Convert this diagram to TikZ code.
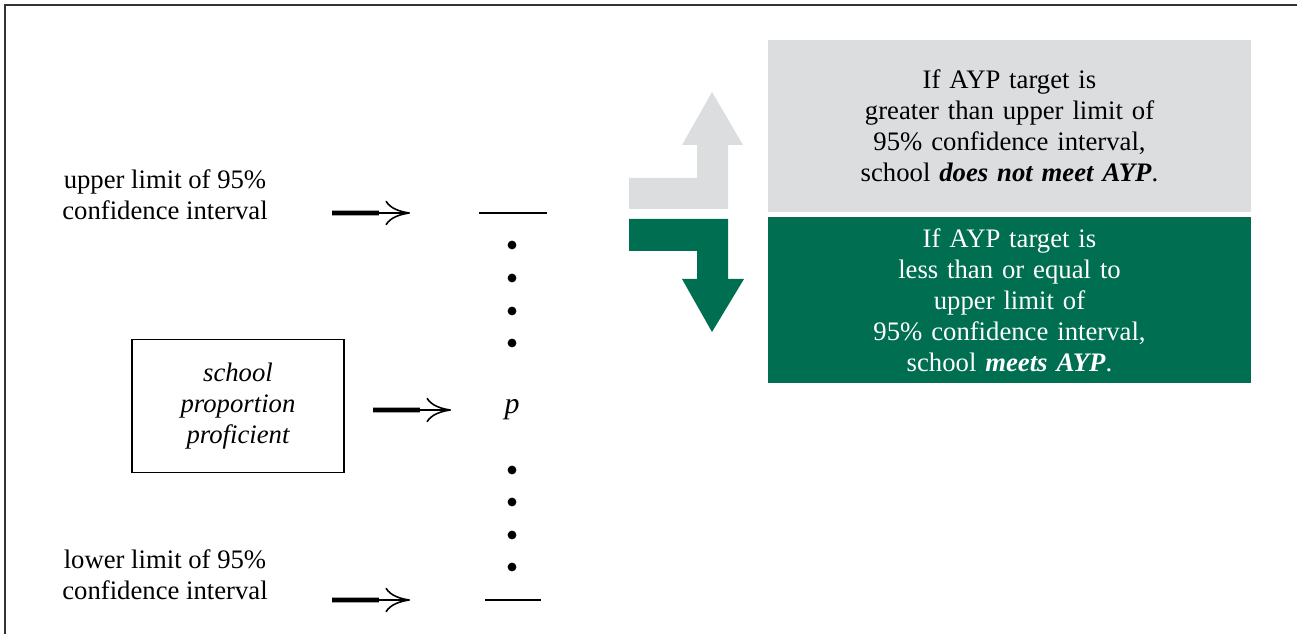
\documentclass[tikz,border=0pt]{standalone}
\usepackage{fontspec}
\setmainfont{Liberation Serif}
\usetikzlibrary{positioning, arrows.meta, calc}

\definecolor{aypgray}{HTML}{DCDDDF}
\definecolor{aypgreen}{HTML}{006F51}

\tikzset{
  lbl/.style={align=center, font=\fontsize{15.2}{17.6}\selectfont, inner sep=0pt},
  barline/.style={line width=2.8pt},
  tiparrow/.style={line width=0.9pt, -{Computer Modern Rightarrow[length=14pt, width=14pt, line width=0.9pt]}},
  tick/.style={line width=0.9pt},
  cidot/.style={circle, fill, inner sep=0pt, minimum size=5pt},
  outcome/.style={lbl, minimum width=483*0.02cm, text width=460*0.02cm},
}

\begin{document}
\begin{tikzpicture}[x=0.02cm, y=-0.02cm]
      \useasboundingbox (0,0) rectangle (1297,634);
      % frame
      \draw[line width=0.9pt, black!80] (5,634) -- (5,5) -- (1297,5);

      % interval on the right
      \coordinate (top) at (513,213);
      \coordinate (bot) at (513,600);
      \draw[tick] (479,213) -- (547,213);
      \draw[tick] (485,600) -- (541,600);
      \node [lbl, font=\fontsize{17}{17.6}\selectfont] (p) at (512,410) {\textit{p}};
      \foreach \y [count=\i] in {245,278,311,343} {
        \node [cidot] (ud\i) at (512,\y) {};
      }
      \foreach \y [count=\i] in {470,502,535,567} {
        \node [cidot] (ld\i) at (512,\y) {};
      }

      % labels on the left
      \node [lbl] (upper) at (165,195) {upper limit of 95\%\\confidence interval};
      \node [lbl] (lower) at (165,575) {lower limit of 95\%\\confidence interval};
      \node [lbl, draw, line width=0.6pt, minimum width=212*0.02cm, minimum height=133*0.02cm]
        (school) at (238,406) {\itshape school\\\itshape proportion\\\itshape proficient};

      % pointers
      \coordinate (ua) at (332,213);
      \coordinate (ub) at (410,213);
      \coordinate (pa) at (373,410);
      \coordinate (pb) at (451,410);
      \coordinate (la) at (332,600);
      \coordinate (lb) at (410,600);
      \foreach \a/\b in {ua/ub, pa/pb, la/lb} {
        \draw[barline] (\a) -- ($(\a)!0.6!(\b)$);
        \draw[tiparrow] (\a) -- (\b);
      }

      % outcomes
      \node [outcome, fill=aypgray, minimum height=172*0.02cm] (fail) at (1009.5,126)
        {If AYP target is\\greater than upper limit of\\95\% confidence interval,\\school \textbf{\textit{does not meet AYP}}.};
      \node [outcome, fill=aypgreen, text=white, minimum height=166*0.02cm] (meet) at (1009.5,300)
        {If AYP target is\\less than or equal to\\upper limit of\\95\% confidence interval,\\school \textbf{\textit{meets AYP}}.};

      % bent arrows
      \fill[aypgray] (629,178) -- (697,178) -- (697,145) -- (682,145) -- (712,92)
        -- (743,145) -- (728,145) -- (728,209) -- (629,209) -- cycle;
      \fill[aypgreen] (629,219) -- (728,219) -- (728,279) -- (744,279) -- (712,332)
        -- (682,279) -- (697,279) -- (697,251) -- (629,251) -- cycle;
    \end{tikzpicture}
\end{document}
